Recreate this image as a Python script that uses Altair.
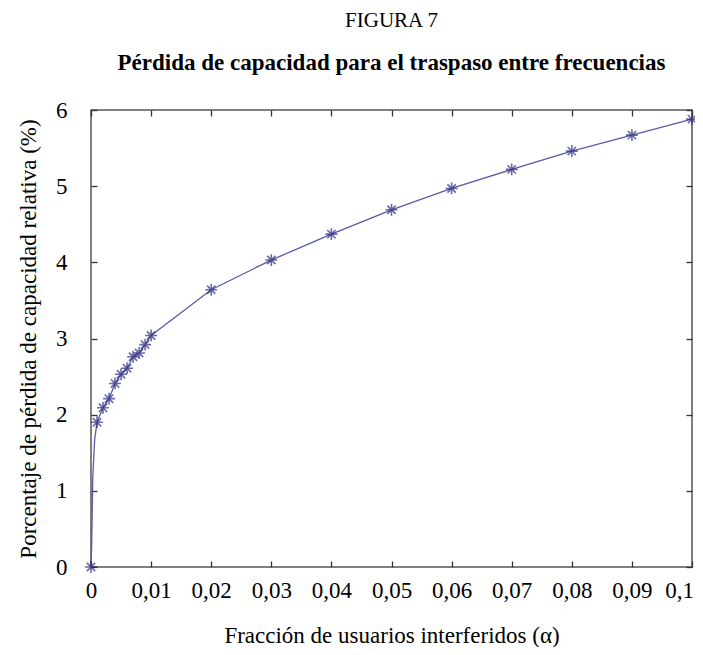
import altair as alt
import pandas as pd

# Marked points (asterisks)
x_pts = [0, 0.001, 0.002, 0.003, 0.004, 0.005, 0.006, 0.007, 0.008, 0.009, 0.01,
         0.02, 0.03, 0.04, 0.05, 0.06, 0.07, 0.08, 0.09, 0.1]
y_pts = [0, 1.90, 2.09, 2.21, 2.41, 2.53, 2.61, 2.76, 2.81, 2.92, 3.04,
         3.64, 4.03, 4.37, 4.69, 4.97, 5.22, 5.46, 5.67, 5.88]

# Extra curve points near the origin (no markers)
x_line_extra = [0.0001, 0.0002, 0.0003, 0.0006]
y_line_extra = [0.25, 0.71, 1.17, 1.67]

x_ticks = [0, 0.01, 0.02, 0.03, 0.04, 0.05, 0.06, 0.07, 0.08, 0.09, 0.1]
y_ticks = [0, 1, 2, 3, 4, 5, 6]

pts = pd.DataFrame({"x": x_pts, "y": y_pts})
line_df = pd.concat([pts, pd.DataFrame({"x": x_line_extra, "y": y_line_extra})]).sort_values("x")

FONT = "Liberation Serif"
W, H = 601, 457
TS = 6
label_expr = "replace(format(datum.value, '~g'), '.', ',')"

xs = alt.Scale(domain=[0, 0.1], nice=False)
ys = alt.Scale(domain=[0, 6], nice=False)

xenc = alt.X("x:Q", scale=xs,
             axis=alt.Axis(orient="bottom", values=x_ticks, labelExpr=label_expr,
                           title="Fracción de usuarios interferidos (α)",
                           titleX=W / 2, titleY=74, titleBaseline="middle",
                           offset=-TS, tickSize=TS, labelPadding=12, domain=False,
                           labelFlush=False, grid=False,
                           labelOffset={"condition": {"test": "datum.value >= 0.1", "value": -13},
                                        "value": 0}))
yenc = alt.Y("y:Q", scale=ys,
             axis=alt.Axis(orient="left", values=y_ticks,
                           title="Porcentaje de pérdida de capacidad relativa (%)",
                           titleX=-69, titleY=H / 2, titleBaseline="middle",
                           offset=-TS, tickSize=TS, labelPadding=24, domain=False,
                           labelFlush=False, grid=False))

line = alt.Chart(line_df).mark_line(color="#5a5aa8", strokeWidth=1.3).encode(
    x=xenc, y=yenc, order="x:Q")

star = "M0,-1L0,1M-1,0L1,0M-0.7,-0.7L0.7,0.7M-0.7,0.7L0.7,-0.7"
points = alt.Chart(pts).mark_point(shape=star, filled=False, color="#2b2a7e",
                                   size=140, strokeWidth=1.6).encode(
    x=alt.X("x:Q", scale=xs, axis=None), y=alt.Y("y:Q", scale=ys, axis=None))

frame_axes = alt.Chart(pts).mark_point(opacity=0).encode(
    x=alt.X("x:Q", scale=xs,
            axis=alt.Axis(orient="top", values=x_ticks, labels=False, title=None,
                          offset=-TS, tickSize=TS, domain=False, grid=False)),
    y=alt.Y("y:Q", scale=ys,
            axis=alt.Axis(orient="right", values=y_ticks, labels=False, title=None,
                          offset=-TS, tickSize=TS, domain=False, grid=False)),
)

chart = alt.layer(line, points, frame_axes).properties(
    width=W, height=H,
    autosize=alt.AutoSizeParams(type="none"),
    padding={"left": 83, "top": 102, "right": 3, "bottom": 80},
    title=alt.TitleParams(
        text="FIGURA 7",
        subtitle="Pérdida de capacidad para el traspaso entre frecuencias",
        font=FONT, fontSize=21, fontWeight="normal", color="black",
        subtitleFont=FONT, subtitleFontSize=23, subtitleFontWeight="bold",
        subtitleColor="black", subtitlePadding=21, offset=24, anchor="middle",
    ),
).configure_view(stroke="#555555", strokeWidth=1.5).configure_axis(
    labelFont=FONT, labelFontSize=23, labelColor="black",
    titleFont=FONT, titleFontSize=23, titleFontWeight="normal", titleColor="black",
    tickColor="#333333", tickWidth=1.3,
)

chart.save("out.html", embed_options={"renderer": "svg", "actions": False})
